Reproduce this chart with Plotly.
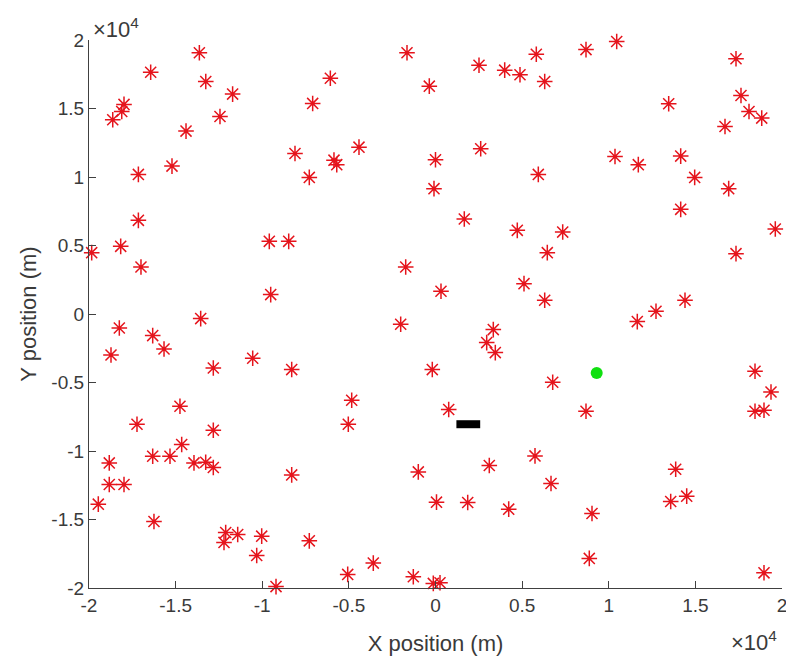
import plotly.graph_objects as go

# Node positions (m)
node_x = [-13630, -16440, -13260, -11710, -17980, -18110, -18630, -12440, -14400, -7090,
          -6070, -1645, -358, -8110, -4416, -5860, -5700, -7284, 0, -87,
          -15210, -17150, -17150, -18170, -19845, -17000, -9593, -8473, -9512, -1720,
          317, 2511, 3994, 4877, 5818, 6303, 8687, 10459, 17345, 13460,
          17633, 18095, 18830, 16710, 2609, 5934, 10361, 11706, 14153, 14960,
          16923, 14153, 1662, 4721, 7342, 6453, 19613, 17345, 5108, 6303,
          12727, 14401, -13553, -18250, -16323, -15670, -18730, -12825, -10551, -8300,
          -2009, -185, -14750, -17230, -12825, -4837, -5033, -14650, -16323, -15325,
          -18830, -13940, -13264, -12825, -8300, -993, -18830, -17980, -19463, 58,
          -16250, -12110, -12208, -11417, -10032, -10320, -7284, -3590, -5068, -1281,
          -127, 260, -9206, 11648, 3336, 2955, 3452, 6765, 18442, 19365,
          18442, 18961, 762, 8687, 5743, 3105, 13864, 6667, 1859, 4225,
          9033, 13576, 14499, 8877, 18961]
node_y = [19070, 17650, 16970, 16050, 15300, 14785, 14180, 14420, 13350, 15370,
          17210, 19070, 16630, 11720, 12180, 11230, 10900, 9970, 11260, 9150,
          10795, 10190, 6834, 4938, 4478, 3428, 5303, 5303, 1415, 3428,
          1656, 18160, 17800, 17460, 18960, 16970, 19300, 19890, 18630, 15350,
          15950, 14785, 14300, 13690, 12065, 10190, 11500, 10900, 11525, 9970,
          9150, 7637, 6930, 6105, 5980, 4478, 6200, 4405, 2217, 999,
          197, 999, -336, -1021, -1576, -2553, -2991, -3939, -3231, -4056,
          -751, -4056, -6733, -8045, -8483, -6295, -8045, -9526, -10379, -10379,
          -10868, -10868, -10817, -11204, -11744, -11525, -12444, -12444, -13881, -13735,
          -15142, -15945, -16674, -16091, -16215, -17623, -16558, -18184, -19008, -19183,
          -19665, -19621, -19898, -555, -1138, -2086, -2816, -4982, -4180, -5689,
          -7097, -7024, -6973, -7097, -10357, -11058, -11328, -12371, -13757, -14245,
          -14559, -13684, -13297, -17841, -18892]

green_x = [9304]
green_y = [-4304]
black_x = [1893]
black_y = [-8045]

tick_vals = [-20000, -15000, -10000, -5000, 0, 5000, 10000, 15000, 20000]
tick_text = ["-2", "-1.5", "-1", "-0.5", "0", "0.5", "1", "1.5", "2"]
exp_text = "×10<sup>4</sup>"

font_family = "Liberation Sans, Arial, sans-serif"
axis_col = "#404040"
txt_col = "#3a3a3a"
red = "#e5141c"

fig = go.Figure()
fig.add_trace(go.Scatter(
    x=node_x, y=node_y, mode="markers", cliponaxis=False,
    marker=dict(symbol="asterisk-open", size=13, color=red,
                line=dict(color=red, width=1.5)),
    showlegend=False, hoverinfo="skip"))
fig.add_trace(go.Scatter(
    x=green_x, y=green_y, mode="markers", cliponaxis=False,
    marker=dict(symbol="circle", size=12, color="#10e010",
                line=dict(width=0)),
    showlegend=False, hoverinfo="skip"))
fig.add_trace(go.Scatter(
    x=black_x, y=black_y, mode="markers", cliponaxis=False,
    marker=dict(symbol="line-ew", size=17, color="black",
                line=dict(color="black", width=8)),
    showlegend=False, hoverinfo="skip"))

axis_common = dict(
    showgrid=False, zeroline=False, showline=True, linecolor=axis_col,
    linewidth=1.2, ticks="inside", ticklen=7, tickwidth=1.2,
    tickcolor=axis_col, tickvals=tick_vals, ticktext=tick_text,
    tickfont=dict(family=font_family, size=19, color=txt_col),
    ticklabeloverflow="allow",
    mirror=False, range=[-20000, 20000], fixedrange=True)

fig.update_layout(
    width=786, height=657,
    margin=dict(l=89, r=4, t=40, b=69, autoexpand=False),
    paper_bgcolor="white", plot_bgcolor="white",
    font=dict(family=font_family, size=21, color=txt_col),
    xaxis=dict(**axis_common,
               title=dict(text="X position (m)", standoff=20,
                          font=dict(family=font_family, size=22, color=txt_col))),
    yaxis=dict(**axis_common,
               title=dict(text="Y position (m)", standoff=8,
                          font=dict(family=font_family, size=22, color=txt_col))),
    annotations=[
        dict(text=exp_text, xref="paper", yref="paper", x=0, y=1,
             xanchor="left", yanchor="bottom", yshift=-4, xshift=2, showarrow=False,
             font=dict(family=font_family, size=22, color=txt_col)),
        dict(text=exp_text, xref="paper", yref="paper", x=1, y=0,
             xanchor="right", yanchor="bottom", yshift=-69, xshift=-3, showarrow=False,
             font=dict(family=font_family, size=22, color=txt_col)),
    ],
)

fig.write_html("out.html")
